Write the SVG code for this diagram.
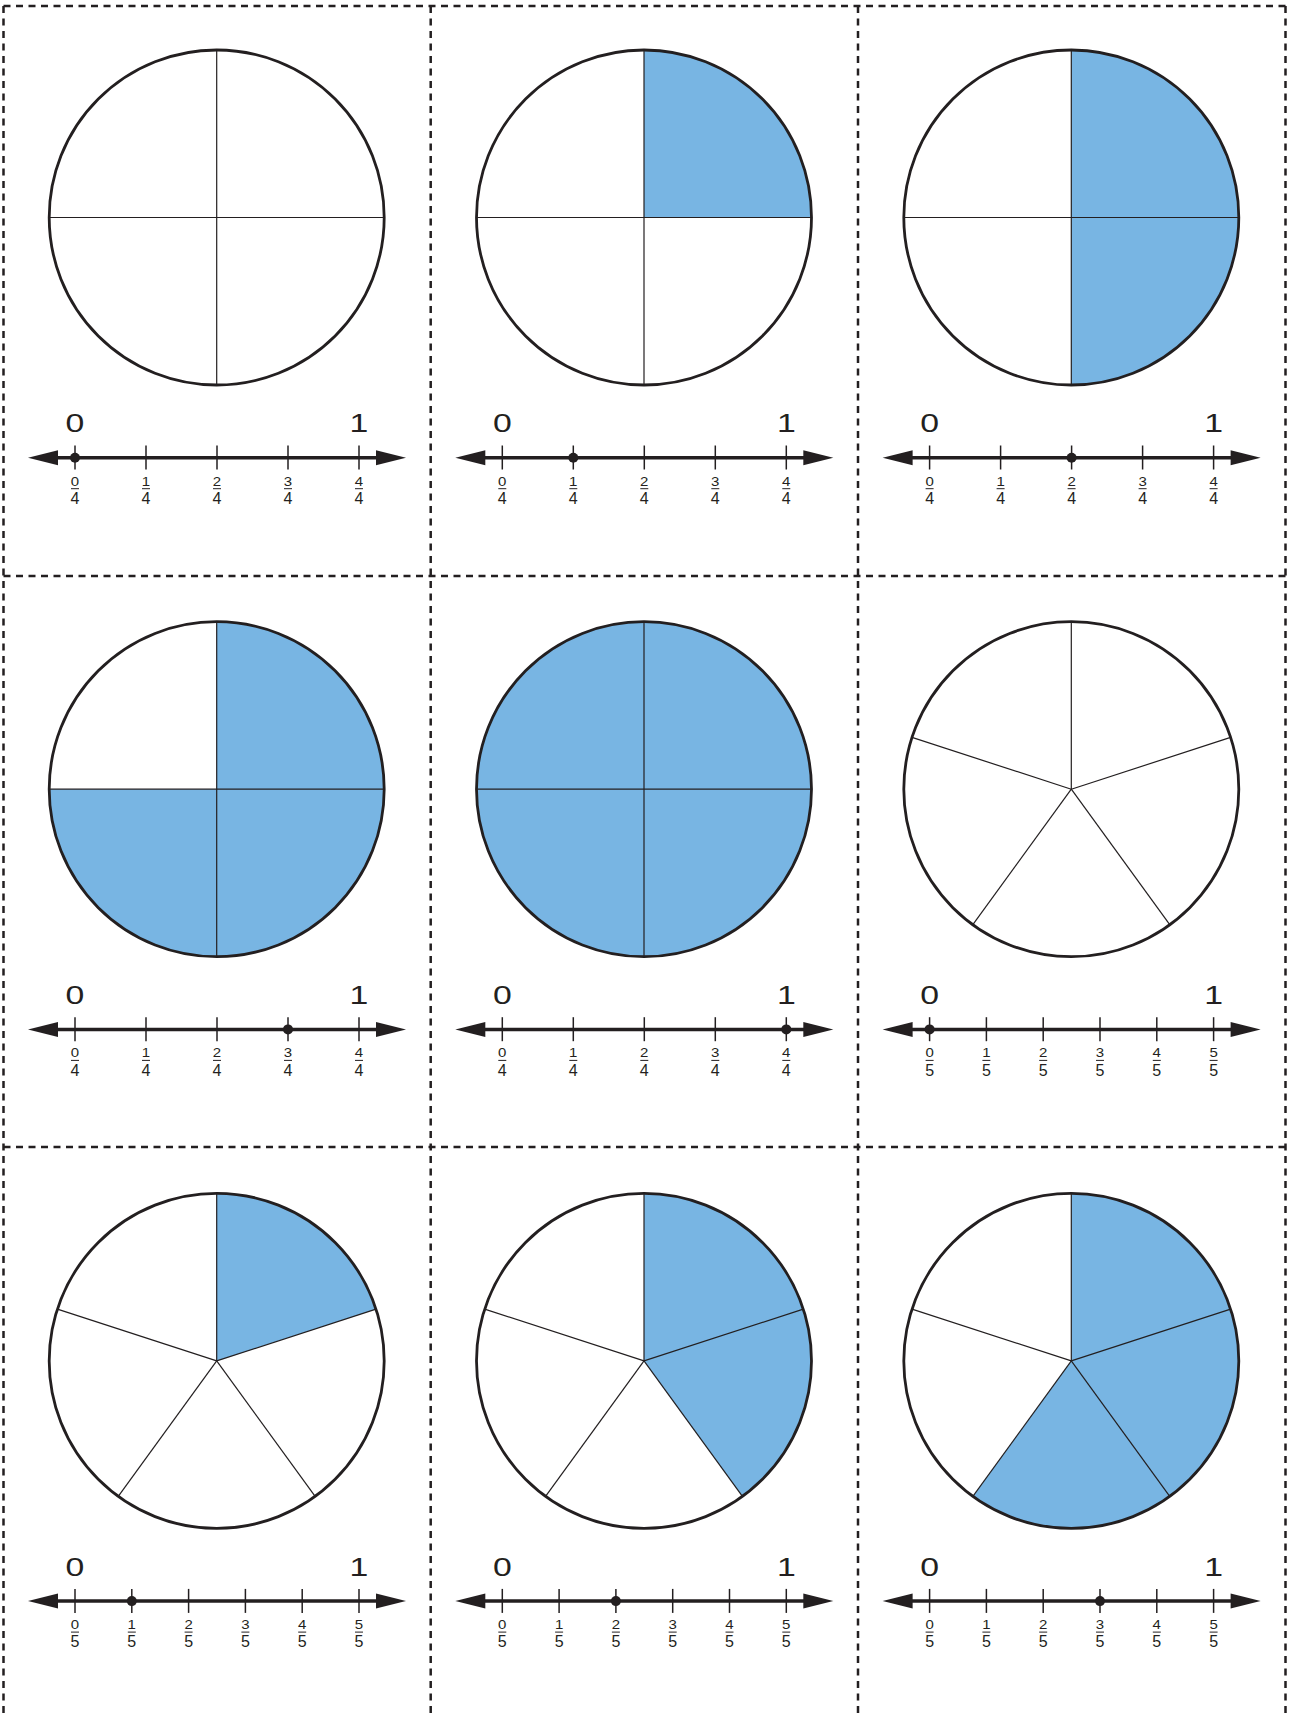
<svg xmlns="http://www.w3.org/2000/svg" width="1290" height="1715" viewBox="0 0 1290 1715">
<style>
.bg{fill:#ffffff}
.cut{stroke:#231f20;stroke-width:2.5;stroke-dasharray:7 5.5;fill:none}
.fill{fill:#78b5e3;stroke:none}
.div{stroke:#231f20;stroke-width:1.2;fill:none}
.rim{stroke:#231f20;stroke-width:2.8;fill:none}
.axis{stroke:#231f20;stroke-width:3.5;fill:none}
.tick{stroke:#231f20;stroke-width:1.5}
.bar{stroke:#231f20;stroke-width:1}
.big{font-family:"Liberation Sans",Arial,sans-serif;font-size:26px;fill:#231f20;text-anchor:middle}
.num{font-family:"Liberation Sans",Arial,sans-serif;font-size:12.5px;fill:#231f20;text-anchor:middle}
.den{font-family:"Liberation Sans",Arial,sans-serif;font-size:16px;fill:#231f20;text-anchor:middle}
.dot{fill:#231f20}
.head{fill:#231f20}
</style>
<defs>
<g id="axis">
<line class="axis" x1="40" y1="457.7" x2="394" y2="457.7"/>
<path class="head" d="M28,457.7 L58,450.2 L58,465.2 Z"/>
<path class="head" d="M406,457.7 L376,450.2 L376,465.2 Z"/>
<text class="big" transform="translate(75,432.3) scale(1.3,1)">0</text>
<text class="big" transform="translate(359,432.3) scale(1.3,1)">1</text>
</g>
<g id="q4">
<line class="tick" x1="75" y1="445.5" x2="75" y2="469.5"/>
<line class="tick" x1="146" y1="445.5" x2="146" y2="469.5"/>
<line class="tick" x1="217" y1="445.5" x2="217" y2="469.5"/>
<line class="tick" x1="288" y1="445.5" x2="288" y2="469.5"/>
<line class="tick" x1="359" y1="445.5" x2="359" y2="469.5"/>
<text class="num" transform="translate(75,485.7) scale(1.2,1)">0</text>
<text class="num" transform="translate(146,485.7) scale(1.2,1)">1</text>
<text class="num" transform="translate(217,485.7) scale(1.2,1)">2</text>
<text class="num" transform="translate(288,485.7) scale(1.2,1)">3</text>
<text class="num" transform="translate(359,485.7) scale(1.2,1)">4</text>
<line class="bar" x1="71" y1="488.7" x2="79" y2="488.7"/>
<line class="bar" x1="142" y1="488.7" x2="150" y2="488.7"/>
<line class="bar" x1="213" y1="488.7" x2="221" y2="488.7"/>
<line class="bar" x1="284" y1="488.7" x2="292" y2="488.7"/>
<line class="bar" x1="355" y1="488.7" x2="363" y2="488.7"/>
<text class="den" x="75" y="504">4</text>
<text class="den" x="146" y="504">4</text>
<text class="den" x="217" y="504">4</text>
<text class="den" x="288" y="504">4</text>
<text class="den" x="359" y="504">4</text>
</g>
<g id="q5">
<line class="tick" x1="75" y1="445.5" x2="75" y2="469.5"/>
<line class="tick" x1="131.8" y1="445.5" x2="131.8" y2="469.5"/>
<line class="tick" x1="188.6" y1="445.5" x2="188.6" y2="469.5"/>
<line class="tick" x1="245.4" y1="445.5" x2="245.4" y2="469.5"/>
<line class="tick" x1="302.2" y1="445.5" x2="302.2" y2="469.5"/>
<line class="tick" x1="359" y1="445.5" x2="359" y2="469.5"/>
<text class="num" transform="translate(75,485.7) scale(1.2,1)">0</text>
<text class="num" transform="translate(131.8,485.7) scale(1.2,1)">1</text>
<text class="num" transform="translate(188.6,485.7) scale(1.2,1)">2</text>
<text class="num" transform="translate(245.4,485.7) scale(1.2,1)">3</text>
<text class="num" transform="translate(302.2,485.7) scale(1.2,1)">4</text>
<text class="num" transform="translate(359,485.7) scale(1.2,1)">5</text>
<line class="bar" x1="71" y1="488.7" x2="79" y2="488.7"/>
<line class="bar" x1="127.8" y1="488.7" x2="135.8" y2="488.7"/>
<line class="bar" x1="184.6" y1="488.7" x2="192.6" y2="488.7"/>
<line class="bar" x1="241.4" y1="488.7" x2="249.4" y2="488.7"/>
<line class="bar" x1="298.2" y1="488.7" x2="306.2" y2="488.7"/>
<line class="bar" x1="355" y1="488.7" x2="363" y2="488.7"/>
<text class="den" x="75" y="504">5</text>
<text class="den" x="131.8" y="504">5</text>
<text class="den" x="188.6" y="504">5</text>
<text class="den" x="245.4" y="504">5</text>
<text class="den" x="302.2" y="504">5</text>
<text class="den" x="359" y="504">5</text>
</g>
<g id="cross">
<line class="div" x1="216.7" y1="50" x2="216.7" y2="385"/>
<line class="div" x1="49.2" y1="217.5" x2="384.2" y2="217.5"/>
</g>
<g id="star">
<line class="div" x1="216.7" y1="217.5" x2="216.7" y2="50"/>
<line class="div" x1="216.7" y1="217.5" x2="376.0" y2="165.74"/>
<line class="div" x1="216.7" y1="217.5" x2="315.15" y2="353.01"/>
<line class="div" x1="216.7" y1="217.5" x2="118.25" y2="353.01"/>
<line class="div" x1="216.7" y1="217.5" x2="57.4" y2="165.74"/>
</g>
<circle id="rim" class="rim" cx="216.7" cy="217.5" r="167.5"/>
</defs>
<rect class="bg" x="0" y="0" width="1290" height="1715"/>

<g id="cell-1-1">
<use href="#cross"/><use href="#rim"/>
<use href="#axis"/><use href="#q4"/>
<circle class="dot" cx="75" cy="457.7" r="5"/>
</g>
<g id="cell-1-2" transform="translate(427.3,0)">
<path class="fill" d="M216.7,217.5 L216.7,50 A167.5,167.5 0 0 1 384.2,217.5 Z"/>
<use href="#cross"/><use href="#rim"/>
<use href="#axis"/><use href="#q4"/>
<circle class="dot" cx="146" cy="457.7" r="5"/>
</g>
<g id="cell-1-3" transform="translate(854.6,0)">
<path class="fill" d="M216.7,50 A167.5,167.5 0 0 1 216.7,385 Z"/>
<use href="#cross"/><use href="#rim"/>
<use href="#axis"/><use href="#q4"/>
<circle class="dot" cx="217" cy="457.7" r="5"/>
</g>

<g id="cell-2-1" transform="translate(0,571.7)">
<path class="fill" d="M216.7,217.5 L216.7,50 A167.5,167.5 0 1 1 49.2,217.5 Z"/>
<use href="#cross"/><use href="#rim"/>
<use href="#axis"/><use href="#q4"/>
<circle class="dot" cx="288" cy="457.7" r="5"/>
</g>
<g id="cell-2-2" transform="translate(427.3,571.7)">
<circle class="fill" cx="216.7" cy="217.5" r="167.5"/>
<use href="#cross"/><use href="#rim"/>
<use href="#axis"/><use href="#q4"/>
<circle class="dot" cx="359" cy="457.7" r="5"/>
</g>
<g id="cell-2-3" transform="translate(854.6,571.7)">
<use href="#star"/><use href="#rim"/>
<use href="#axis"/><use href="#q5"/>
<circle class="dot" cx="75" cy="457.7" r="5"/>
</g>

<g id="cell-3-1" transform="translate(0,1143.4)">
<path class="fill" d="M216.7,217.5 L216.7,50 A167.5,167.5 0 0 1 376.0,165.74 Z"/>
<use href="#star"/><use href="#rim"/>
<use href="#axis"/><use href="#q5"/>
<circle class="dot" cx="131.8" cy="457.7" r="5"/>
</g>
<g id="cell-3-2" transform="translate(427.3,1143.4)">
<path class="fill" d="M216.7,217.5 L216.7,50 A167.5,167.5 0 0 1 315.15,353.01 Z"/>
<use href="#star"/><use href="#rim"/>
<use href="#axis"/><use href="#q5"/>
<circle class="dot" cx="188.6" cy="457.7" r="5"/>
</g>
<g id="cell-3-3" transform="translate(854.6,1143.4)">
<path class="fill" d="M216.7,217.5 L216.7,50 A167.5,167.5 0 1 1 118.25,353.01 Z"/>
<use href="#star"/><use href="#rim"/>
<use href="#axis"/><use href="#q5"/>
<circle class="dot" cx="245.4" cy="457.7" r="5"/>
</g>

<g id="cut-lines">
<line class="cut" x1="3.5" y1="6" x2="1285.5" y2="6"/>
<line class="cut" x1="3.5" y1="576" x2="1285.5" y2="576"/>
<line class="cut" x1="3.5" y1="1147" x2="1285.5" y2="1147"/>
<line class="cut" x1="3.5" y1="6" x2="3.5" y2="1715"/>
<line class="cut" x1="430.7" y1="6" x2="430.7" y2="1715"/>
<line class="cut" x1="858" y1="6" x2="858" y2="1715"/>
<line class="cut" x1="1285.5" y1="6" x2="1285.5" y2="1715"/>
</g>
</svg>
